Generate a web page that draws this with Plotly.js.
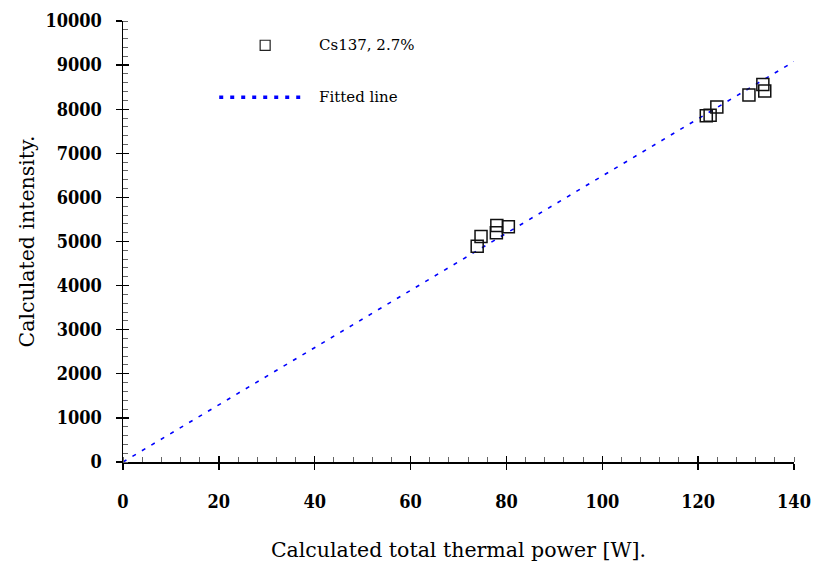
<!DOCTYPE html>
<html>
<head>
<meta charset="utf-8">
<script src="https://cdn.plot.ly/plotly-3.0.1.min.js"></script>
<style>
  html, body { margin: 0; padding: 0; background: #ffffff; }
  #chart { width: 817px; height: 563px; }
</style>
</head>
<body>
<div id="chart"></div>
<script>
// Measured points: total thermal power [W] vs. intensity (Cs137, 2.7%)
const powerW = [73.9, 74.7, 77.9, 78.0, 80.4, 121.7, 122.5, 123.9, 130.6, 133.5, 133.9];
const intensity = [4895, 5114, 5200, 5364, 5337, 7853, 7863, 8051, 8321, 8561, 8412];

// Fitted straight line through the origin
const fitPower = [0, 140];
const fitIntensity = [0, 9080];

const xTicks = [0, 20, 40, 60, 80, 100, 120, 140];
const yTicks = [0, 1000, 2000, 3000, 4000, 5000, 6000, 7000, 8000, 9000, 10000];

const serif = 'DejaVu Serif, Liberation Serif, serif';
const tickSerif = 'DejaVu Serif Condensed, DejaVu Serif, serif';

const traces = [
  {
    x: fitPower, y: fitIntensity, type: 'scatter', mode: 'lines',
    line: { color: '#0000ff', width: 1.6, dash: '4px,7px' },
    hoverinfo: 'skip', showlegend: false
  },
  {
    x: powerW, y: intensity, type: 'scatter', mode: 'markers',
    marker: { symbol: 'square-open', size: 12, color: '#111111', line: { width: 1.5 } },
    showlegend: false
  },
  // invisible copy on the overlay axes so their inner major ticks get drawn
  {
    x: powerW, y: intensity, type: 'scatter', mode: 'markers',
    xaxis: 'x2', yaxis: 'y2', marker: { opacity: 0 },
    hoverinfo: 'skip', showlegend: false
  }
];

const baseX = { range: [0, 140], fixedrange: true, showgrid: false, zeroline: false };
const baseY = { range: [0, 10000], fixedrange: true, showgrid: false, zeroline: false };

// legend drawn by hand: paper coords over the plot area
const legendShapes = [
  { type: 'rect', xref: 'paper', yref: 'paper',
    x0: 0.2044, x1: 0.2193, y0: 0.9336, y1: 0.9563,
    line: { color: '#222222', width: 1.2 }, fillcolor: 'rgba(0,0,0,0)' },
  { type: 'line', xref: 'paper', yref: 'paper',
    x0: 0.1434, x1: 0.2686, y0: 0.8271, y1: 0.8271,
    line: { color: '#0000ff', width: 3.5, dash: '4px,7px' } }
];

const legendText = [
  { text: 'Cs137, 2.7%', xref: 'paper', yref: 'paper', x: 0.2894, y: 0.9449,
    xanchor: 'left', yanchor: 'middle', showarrow: false,
    font: { family: serif, size: 15, color: '#000' } },
  { text: 'Fitted line', xref: 'paper', yref: 'paper', x: 0.2894, y: 0.8271,
    xanchor: 'left', yanchor: 'middle', showarrow: false,
    font: { family: serif, size: 15, color: '#000' } }
];

const layout = {
  width: 817, height: 563,
  margin: { l: 123, r: 23, t: 21, b: 101 },
  paper_bgcolor: '#ffffff', plot_bgcolor: '#ffffff',
  showlegend: false,
  xaxis: Object.assign({}, baseX, {
    tickvals: xTicks, ticktext: xTicks.map(String),
    ticks: 'outside', ticklen: 6, tickwidth: 1.3, tickcolor: '#000',
    showline: true, linecolor: '#000', linewidth: 1.5,
    ticklabelstandoff: 17,
    tickfont: { family: tickSerif, size: 18, color: '#000', weight: 'bold' },
    minor: { dtick: 4, ticks: 'inside', ticklen: 5, tickwidth: 1, tickcolor: '#666' },
    title: { text: 'Calculated total thermal power [W].', standoff: 31,
             font: { family: serif, size: 20.5, color: '#000' } }
  }),
  yaxis: Object.assign({}, baseY, {
    tickvals: yTicks, ticktext: yTicks.map(String),
    ticks: 'outside', ticklen: 6, tickwidth: 1.3, tickcolor: '#000',
    showline: true, linecolor: '#000', linewidth: 1.5,
    ticklabelstandoff: 10,
    tickfont: { family: tickSerif, size: 18, color: '#000', weight: 'bold' },
    minor: { dtick: 200, ticks: 'inside', ticklen: 5, tickwidth: 1, tickcolor: '#666' },
    title: { text: 'Calculated intensity.', standoff: 5,
             font: { family: serif, size: 20.5, color: '#000' } }
  }),
  xaxis2: Object.assign({}, baseX, {
    overlaying: 'x', anchor: 'y2', tickvals: xTicks, showticklabels: false,
    ticks: 'inside', ticklen: 6, tickwidth: 1.3, tickcolor: '#000', showline: false
  }),
  yaxis2: Object.assign({}, baseY, {
    overlaying: 'y', anchor: 'x2', tickvals: yTicks, showticklabels: false,
    ticks: 'inside', ticklen: 6, tickwidth: 1.3, tickcolor: '#000', showline: false
  }),
  shapes: legendShapes,
  annotations: legendText
};

Plotly.newPlot('chart', traces, layout, { staticPlot: true, displayModeBar: false });
</script>
</body>
</html>
